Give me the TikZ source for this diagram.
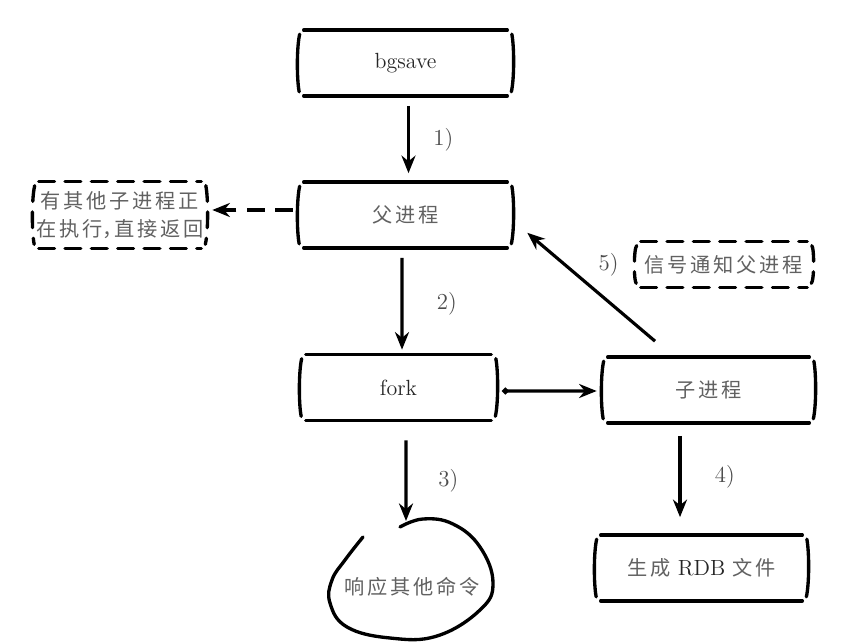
\documentclass[tikz,border=0pt]{standalone}
\usepackage{fontspec}
\newfontfamily\cjk[LetterSpace=14]{Noto Sans CJK SC}
\usetikzlibrary{arrows.meta,calc,positioning}

\tikzset{
  frame/.style={line width=1.9pt, line cap=round},
  dashframe/.style={frame, dash pattern=on 9pt off 6pt},
  flow/.style={-{Stealth[length=10pt,width=8pt]}, line width=1.8pt},
  box/.style={minimum width=4.3cm, minimum height=1.3cm, inner sep=0pt},
  lbl/.style={font=\fontsize{13}{15}\selectfont, text=black!70},
  zh/.style={font=\fontsize{11.5}{16}\selectfont\cjk, text=black!62},
  en/.style={font=\fontsize{12.5}{15}\selectfont, text=black!85},
}

% sketchy frame: lines on top and bottom, bent brackets at the sides
\newcommand{\sketchframe}[2][frame]{%
  \draw[#1] ($(#2.north west)+(6,0)$) -- ($(#2.north east)+(-6,0)$);
  \draw[#1] ($(#2.south west)+(6,0)$) -- ($(#2.south east)+(-6,0)$);
  \draw[#1] ($(#2.north west)+(2,4)$) .. controls ($(#2.west)+(-1,-16)$) and ($(#2.west)+(-1,16)$) .. ($(#2.south west)+(1.5,-4)$);
  \draw[#1] ($(#2.north east)+(-1.5,4)$) .. controls ($(#2.east)+(1,-16)$) and ($(#2.east)+(1,16)$) .. ($(#2.south east)+(-2,-4)$);
}

\begin{document}
\begin{tikzpicture}[x=0.02cm, y=-0.02cm]
  \useasboundingbox (0,0) rectangle (858,644);
  \fill[white] (0,0) rectangle (858,644);

  % steps
  \node[box, en] (bgsave) at (405.5,63) {bgsave};
  \node[box, zh] (parent) at (405.5,215) {父进程};
  \node[box, en, minimum width=3.94cm] (fork) at (398.5,387.5) {fork};
  \node[box, zh, minimum width=4.26cm] (child) at (708.5,390) {子进程};
  \node[box, zh, minimum width=4.26cm] (rdb) at (701.5,568) {生成 {\rmfamily\fontsize{12.5}{15}\selectfont\color{black!85}RDB} 文件};
  \sketchframe{bgsave}
  \sketchframe{parent}
  \sketchframe{fork}
  \sketchframe{child}
  \sketchframe{rdb}

  % notes
  \node[box, zh, align=center, minimum width=3.48cm, minimum height=1.32cm] (busy) at (120,215)
    {有其他子进程正\\在执行\makebox[0.6em][l]{，}直接返回};
  \node[box, zh, minimum width=3.56cm, minimum height=0.9cm] (signal) at (724,264.5) {信号通知父进程};
  \sketchframe[dashframe]{busy}
  \sketchframe[dashframe]{signal}

  % reply blob
  \node[zh] (reply) at (412,587) {响应其他命令};
  \coordinate (replytop) at (406,521);
  \draw[frame] plot[smooth, tension=0.7] coordinates {(400,527) (423,519) (453,524) (480,547) (493,583)
    (480,610) (437,636) (390,638) (347,627) (330,603) (332,580) (345,560) (363,537)};

  % arrows
  \draw[flow] ($(bgsave.south)+(3,10)$) -- ($(parent.north)+(3,-9)$) node[lbl, midway, right=0.35cm] {1)};
  \draw[flow] ($(parent.south)+(-3.5,10)$) -- ($(fork.north)+(3.5,-5)$) node[lbl, midway, right=0.55cm] {2)};
  \draw[flow] ($(fork.south)+(7.5,20)$) -- (replytop) node[lbl, midway, right=0.5cm] {3)};
  \draw[flow] ($(child.south)+(-28.5,13)$) -- ($(rdb.north)+(-21.5,-18)$) node[lbl, midway, right=0.55cm] {4)};
  \draw[flow] ($(child.north)+(-53.5,-16)$) -- ($(parent.south east)+(14,-15)$);
  \node[lbl, left=0.2cm of signal] (five) {5)};
  \draw[flow, {Circle[length=3.5pt]}-{Stealth[length=10pt,width=8pt]}] ($(fork.east)+(5,3.5)$) -- ($(child.west)+(-5,1)$);
  \draw[flow, dash pattern=on 10pt off 6pt] ($(parent.west)+(-5,-5)$) -- ($(busy.east)+(5,-5)$);
\end{tikzpicture}
\end{document}
